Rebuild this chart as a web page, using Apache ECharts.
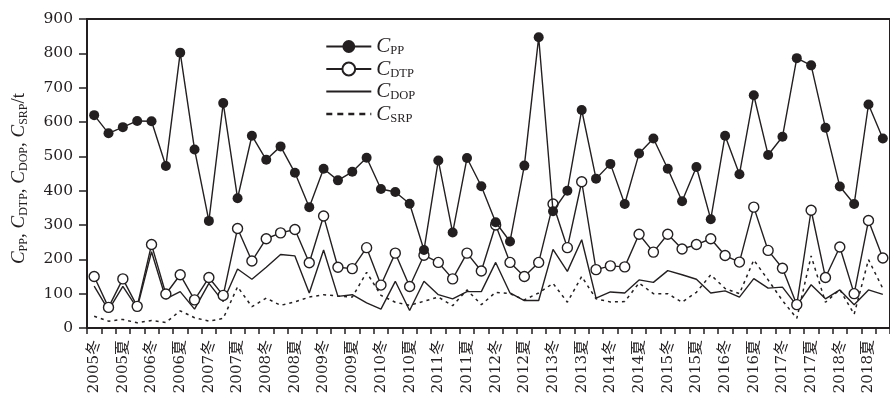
<!DOCTYPE html>
<html>
<head>
<meta charset="utf-8">
<script src="https://cdn.jsdelivr.net/npm/echarts@6/dist/echarts.min.js"></script>
<style>
  html, body { margin: 0; padding: 0; background: #fff; }
  #chart { width: 890px; height: 399px; }
</style>
</head>
<body>
<div id="chart"></div>
<script>
// Sampling campaigns: two samples per season, only the first of each pair is labelled
const seasonLabels = [
  '2005冬', '2005夏', '2006冬', '2006夏', '2007冬', '2007夏', '2008冬', '2008夏',
  '2009冬', '2009夏', '2010冬', '2010夏', '2011冬', '2011夏', '2012冬', '2012夏',
  '2013冬', '2013夏', '2014冬', '2014夏', '2015冬', '2015夏', '2016冬', '2016夏',
  '2017冬', '2017夏', '2018冬', '2018夏'
];
const categories = seasonLabels.flatMap(function (l) { return [l, '']; });

// Phosphorus loads, t
const cPP = [
  620, 567, 585, 603, 602, 472, 802, 520, 312, 655,
  378, 560, 490, 529, 452, 352, 464, 430, 455, 496,
  405, 396, 362, 227, 488, 278, 495, 413, 308, 252,
  473, 847, 340, 400, 635, 435, 478, 361, 508, 552,
  464, 369, 469, 317, 560, 448, 678, 504, 557, 786,
  765, 583, 412, 361, 651, 552
];
const cDTP = [
  150, 60, 143, 63, 243, 99, 155, 82, 147, 95,
  290, 195, 260, 277, 287, 190, 326, 177, 173, 234,
  125, 218, 121, 212, 191, 143, 218, 166, 300, 191,
  150, 191, 361, 234, 426, 170, 181, 178, 273, 221,
  273, 230, 243, 260, 211, 192, 352, 226, 174, 68,
  343, 147, 236, 100, 313, 204
];
const cDOP = [
  122, 52, 121, 58, 222, 85, 106, 55, 130, 77,
  172, 142, 177, 214, 210, 102, 227, 92, 97, 73,
  55, 136, 51, 136, 97, 85, 106, 106, 191, 102,
  80, 80, 229, 165, 257, 87, 105, 102, 140, 133,
  167, 155, 142, 102, 108, 90, 144, 116, 119, 65,
  126, 85, 111, 68, 111, 98
];
const cSRP = [
  34, 20, 25, 15, 22, 16, 50, 30, 20, 28,
  120, 62, 87, 66, 76, 90, 97, 93, 90, 162,
  95, 75, 66, 78, 90, 65, 111, 68, 104, 100,
  82, 102, 130, 75, 150, 85, 76, 77, 131, 100,
  100, 75, 104, 155, 115, 100, 198, 140, 80, 28,
  210, 75, 112, 40, 199, 115
];

const yMin = 0, yMax = 900, yStep = 100;

const ink = '#231f20';
const serif = '"Liberation Serif", "Times New Roman", serif';
const tickFont = '"DejaVu Serif", "Noto Sans CJK SC", serif';

function symbolName(sub) {
  return '{c|C}{s|' + sub + '}';
}

const nameRich = {
  c: { fontFamily: serif, fontStyle: 'italic', fontSize: 19, color: ink, lineHeight: 22 },
  s: { fontFamily: serif, fontSize: 12, color: ink, verticalAlign: 'bottom', lineHeight: 14 },
  p: { fontFamily: serif, fontSize: 19, color: ink, lineHeight: 22 }
};
const legendRich = {
  c: { fontFamily: serif, fontStyle: 'italic', fontSize: 21, color: ink, lineHeight: 22 },
  s: { fontFamily: serif, fontSize: 12.5, color: ink, verticalAlign: 'bottom', lineHeight: 14 }
};

const chart = echarts.init(document.getElementById('chart'), null, { renderer: 'canvas' });

chart.setOption({
  animation: false,
  backgroundColor: '#fff',
  grid: {
    left: 87, right: -4, top: 19, bottom: 71,
    show: true, borderColor: ink, borderWidth: 2, backgroundColor: 'transparent'
  },
  legend: {
    orient: 'vertical',
    left: 320,
    top: 31,
    itemWidth: 45,
    itemHeight: 16,
    itemGap: 1,
    data: [
      { name: 'PP', lineStyle: { width: 2 } },
      { name: 'DTP', lineStyle: { width: 2 } },
      { name: 'DOP', lineStyle: { width: 2 }, itemStyle: { opacity: 0 } },
      { name: 'SRP', lineStyle: { width: 2.6, type: [6, 5] }, itemStyle: { opacity: 0 } }
    ],
    formatter: symbolName,
    textStyle: { rich: legendRich }
  },
  xAxis: {
    type: 'category',
    data: categories,
    boundaryGap: true,
    axisLine: { lineStyle: { color: ink, width: 2 } },
    axisTick: { show: true, interval: 0, inside: false, length: 6, lineStyle: { color: ink, width: 1.5 } },
    axisLabel: {
      interval: 1,
      rotate: 90,
      margin: 12,
      color: ink,
      fontFamily: tickFont,
      fontSize: 15
    },
    splitLine: { show: false }
  },
  yAxis: {
    type: 'value',
    min: yMin,
    max: yMax,
    interval: yStep,
    name: '{c|C}{s|PP}{p|, }{c|C}{s|DTP}{p|, }{c|C}{s|DOP}{p|, }{c|C}{s|SRP}{p|/t}',
    nameLocation: 'middle',
    nameRotate: 90,
    nameGap: 57,
    nameTextStyle: { rich: nameRich, padding: [0, 10, 0, 0] },
    axisLine: { show: true, lineStyle: { color: ink, width: 2 } },
    axisTick: { show: true, inside: false, length: 8, lineStyle: { color: ink, width: 1.5 } },
    axisLabel: { color: ink, fontFamily: tickFont, fontSize: 15.5, margin: 14 },
    splitLine: { show: false }
  },
  series: [
    {
      name: 'SRP',
      type: 'line',
      data: cSRP,
      symbol: 'none',
      lineStyle: { color: ink, width: 1.5, type: [3, 4] },
      itemStyle: { color: ink },
      z: 2
    },
    {
      name: 'DOP',
      type: 'line',
      data: cDOP,
      symbol: 'none',
      lineStyle: { color: ink, width: 1.4 },
      itemStyle: { color: ink },
      z: 3
    },
    {
      name: 'DTP',
      type: 'line',
      data: cDTP,
      symbol: 'circle',
      symbolSize: 10,
      showAllSymbol: true,
      lineStyle: { color: ink, width: 1.4 },
      itemStyle: { color: '#fff', borderColor: ink, borderWidth: 1.4 },
      z: 4
    },
    {
      name: 'PP',
      type: 'line',
      data: cPP,
      symbol: 'circle',
      symbolSize: 10,
      showAllSymbol: true,
      lineStyle: { color: ink, width: 1.4 },
      itemStyle: { color: ink, borderColor: ink, borderWidth: 0 },
      z: 5
    }
  ]
});
</script>
</body>
</html>
